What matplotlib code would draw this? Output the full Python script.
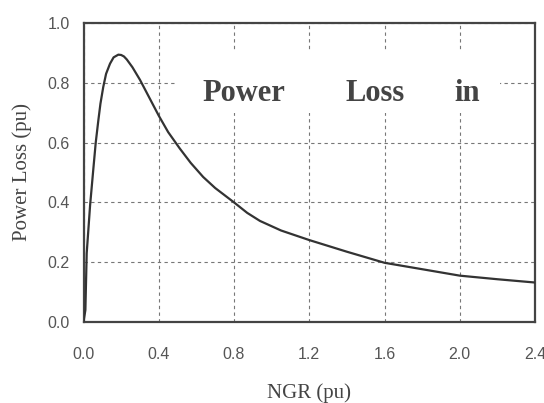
import matplotlib.pyplot as plt
from matplotlib.patches import Rectangle

# curve points
ngr = [0.0, 0.01, 0.017, 0.035, 0.052, 0.065, 0.079, 0.09, 0.105, 0.12, 0.141, 0.16,
       0.185, 0.20, 0.215, 0.23, 0.26, 0.30, 0.35, 0.40, 0.45, 0.512, 0.57, 0.636,
       0.70, 0.80, 0.87, 0.938, 1.05, 1.2, 1.4, 1.6, 1.805, 2.0, 2.2, 2.4]
loss = [0.0, 0.04, 0.23, 0.39, 0.51, 0.60, 0.675, 0.73, 0.786, 0.83, 0.864, 0.885,
        0.894, 0.893, 0.888, 0.878, 0.852, 0.81, 0.75, 0.69, 0.635, 0.58, 0.532, 0.485,
        0.448, 0.40, 0.365, 0.338, 0.306, 0.274, 0.235, 0.198, 0.176, 0.155, 0.143, 0.132]

xticks = [0.0, 0.4, 0.8, 1.2, 1.6, 2.0, 2.4]
yticks = [0.0, 0.2, 0.4, 0.6, 0.8, 1.0]

fig = plt.figure(figsize=(5.44, 4.03), dpi=100)
ax = fig.add_axes([0.1535, 0.201, 0.83, 0.742])

ax.plot(ngr, loss, color='#333333', lw=1.6, zorder=3)

ax.set_xlim(0, 2.4)
ax.set_ylim(0, 1.0)
ax.set_xticks(xticks)
ax.set_yticks(yticks)
ax.set_xticklabels([f"{v:.1f}" for v in xticks])
ax.set_yticklabels([f"{v:.1f}" for v in yticks])
ax.tick_params(length=0, labelsize=11.5, colors='#555555', labelfontfamily='Liberation Sans')
ax.tick_params(axis='x', pad=18)
ax.tick_params(axis='y', pad=10)
ax.grid(True, ls=(0, (3, 3)), color='#777777', lw=0.8)
for s in ax.spines.values():
    s.set_color('#444444')
    s.set_linewidth(1.6)

# white patch behind the in-plot text hides the grid
ax.add_patch(Rectangle((0.497, 0.698), 1.717, 0.21, facecolor='white',
                       edgecolor='none', zorder=2))
for x, w in [(0.85, 'Power'), (1.55, 'Loss'), (2.04, 'in')]:
    ax.text(x, 0.765, w, fontsize=22, fontweight='bold', family='Liberation Serif',
            color='#444444', ha='center', va='center', zorder=4)

ax.set_xlabel('NGR (pu)', fontsize=15, family='Liberation Serif', color='#444444', va='top')
ax.xaxis.set_label_coords(0.5, -0.205)
ax.set_ylabel('Power Loss (pu)', fontsize=15, family='Liberation Serif', color='#444444',
              va='center')
ax.yaxis.set_label_coords(-0.136, 0.5)

fig.savefig('out.png', dpi=100)
